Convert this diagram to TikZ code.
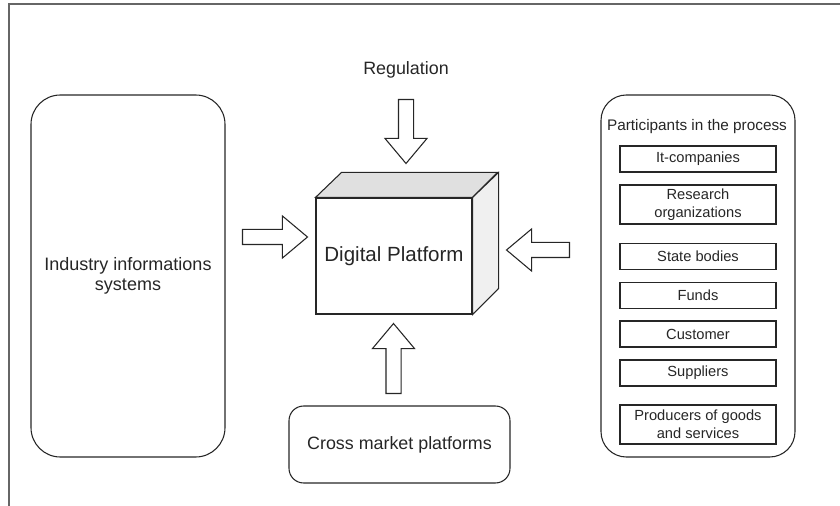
\documentclass[tikz,border=0pt]{standalone}
\usepackage{fontspec}
\setmainfont{Liberation Sans}
\usetikzlibrary{shapes.arrows}

\begin{document}
\begin{tikzpicture}[
  x=0.75pt, y=-0.75pt,
  every node/.style={text=black!85, align=center},
  line/.style={draw=black!85, line width=0.8pt},
  bigbox/.style={line, rounded corners=20pt, minimum width=145.5pt,
                 minimum height=271.5pt, inner sep=0pt},
  member/.style={line, minimum width=117pt, minimum height=19.5pt,
                 inner sep=0pt, font=\fontsize{11}{13.5}\selectfont},
  fatarrow/.style={line, single arrow, fill=white, inner xsep=0pt,
                   inner ysep=5.25pt, single arrow head extend=10.1pt,
                   single arrow tip angle=80, anchor=center}
]
  \useasboundingbox (0,0) rectangle (840,506);

  % --- frame ---
  \draw[black!60, line width=1.4pt] (9,506) -- (9,4) -- (840,4);

  % --- left and right blocks ---
  \node[bigbox, rounded corners=22pt, font=\fontsize{13.5}{15}\selectfont]
    (industry) at (128,276) {Industry informations\\systems};
  \node[bigbox, rounded corners=19pt] (participants) at (698,276) {};
  \node[font=\fontsize{11.5}{13}\selectfont] (ptitle) at (697,127)
    {Participants in the process};

  % --- participants ---
  \node[member] (itco)      at (698,159)   {It-companies};
  \node[member, minimum height=29.25pt] (research) at (698,204.5)
    {Research\\organizations};
  \node[member] (state)     at (698,256.5) {State bodies};
  \node[member] (funds)     at (698,295.5) {Funds};
  \node[member] (customer)  at (698,334)   {Customer};
  \node[member] (suppliers) at (698,373)   {Suppliers};
  \node[member, minimum height=29.25pt] (producers) at (698,424.5)
    {Producers of goods\\and services};

  % --- platform cube ---
  \node[line, fill=white, minimum width=117pt, minimum height=87pt,
        inner sep=0pt, font=\fontsize{15.4}{18}\selectfont]
    (platform) at (394,256) {Digital Platform};
  \draw[line, fill=black!12] (platform.north west) -- ++(26,-25)
    -- ++(156,0) -- (platform.north east) -- cycle;
  \draw[line, fill=black!6] (platform.north east) -- ++(26,-25)
    -- ++(0,116) -- (platform.south east) -- cycle;

  % --- regulation and cross market ---
  \node[font=\fontsize{13.4}{15}\selectfont] (regulation) at (406,70)
    {Regulation};
  \node[line, rounded corners=11pt, minimum width=165.75pt,
        minimum height=57.75pt, font=\fontsize{13.4}{15}\selectfont]
    (crossmarket) at (399.5,444.5) {Cross market platforms};

  % --- block arrows ---
  \node[fatarrow, minimum height=48pt, rotate=-90] (regarrow) at (406,127) {};
  \node[fatarrow, minimum height=52.5pt, rotate=90] (crossarrow) at (393.5,363) {};
  \node[fatarrow, minimum height=48.75pt] (indarrow) at (270.5,237) {};
  \node[fatarrow, minimum height=47.25pt, rotate=180] (partarrow) at (542.5,250) {};

\end{tikzpicture}
\end{document}
